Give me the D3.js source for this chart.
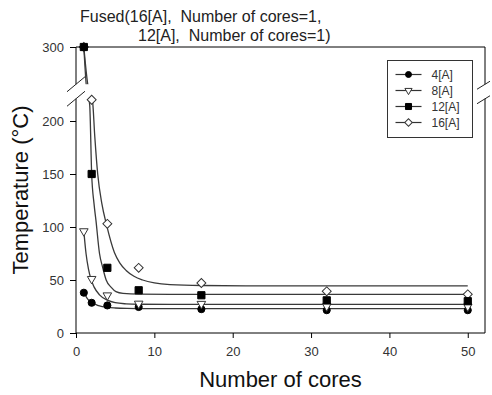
<!DOCTYPE html>
<html>
<head>
<meta charset="utf-8">
<script src="https://cdn.jsdelivr.net/npm/d3@7"></script>
<style>
body { margin: 0; background: #fff; }
text { font-family: "Liberation Sans", Arial, sans-serif; }
</style>
</head>
<body>
<div id="chart"></div>
<script>
var cores = [1, 2, 4, 8, 16, 32, 50];
var temp4 = [38, 28.5, 26, 24.5, 22.5, 21.5, 21.5];
var temp8 = [96, 51, 35.5, 27.7, 27.5, 25.2, 25];
var temp12 = [300, 150, 61.5, 40.3, 35.6, 30.8, 30];
var temp16 = [300, 220, 103, 61.5, 47.2, 39.3, 36.5];

// fitted decay curves
var fit4 = [[1,38.5],[1.5,32],[2,29],[2.5,27],[3,25.5],[4,24.2],[5,23.6],[6.5,23.2],[9,23],[50,23]];
var fit8 = [[1,96],[1.28,75],[1.6,60],[1.9,51],[2.3,43.5],[3,36],[4,31],[5,28.6],[6.4,27.5],[8,27.1],[12,27],[50,27]];
var fit12 = [[1,300],[1.3,250],[1.75,215],[2,150],[2.3,122],[2.55,106],[3,75],[3.4,62],[3.85,50],[4.5,43],[5.1,39],[6,37.3],[8,36.6],[12,36.5],[50,36.5]];
var fit16 = [[1,300],[1.5,250],[2.1,220],[2.4,185],[2.77,150],[3.3,122],[3.9,102],[4.9,76],[5.6,66],[6.4,59],[7.4,53.5],[8.5,50],[10,47.2],[12,45.6],[16,44.8],[25,44.5],[50,44.4]];

var seriesNames = ["4[A]", "8[A]", "12[A]", "16[A]"];
var xTicks = [0, 10, 20, 30, 40, 50];
var yTicks = [0, 50, 100, 150, 200, 300];
var titleLines = ["Fused(16[A],  Number of cores=1,", "12[A],  Number of cores=1)"];

var W = 492, H = 395;
// note: "top" is taken by window.top, so plot edges get a prefix
var plotL = 76, plotR = 485, plotT = 47, plotB = 333;
var breakLo = 221, breakHi = 250;       // axis is cut between these values
var pxPerUnit = 212 / 200;
var yCutLo = plotB - breakLo * pxPerUnit;
var yCutHi = yCutLo - 14.5;

var x = d3.scaleLinear().domain([0, 52.2]).range([plotL, plotR]);
var y = d3.scaleLinear()
    .domain([0, breakLo, breakHi, 300])
    .range([plotB, yCutLo, yCutHi, plotT]);

var svg = d3.select("#chart").append("svg")
    .attr("width", W)
    .attr("height", H);

var series = [
    {name: seriesNames[0], vals: temp4, fit: fit4, shape: "circle", fill: "#000"},
    {name: seriesNames[1], vals: temp8, fit: fit8, shape: "tri", fill: "#fff"},
    {name: seriesNames[2], vals: temp12, fit: fit12, shape: "square", fill: "#000"},
    {name: seriesNames[3], vals: temp16, fit: fit16, shape: "diamond", fill: "#fff"}
];

function symbolPath(shape, big) {
    var k = big ? 1 : 0.7;
    if (shape == "circle") return d3.symbol().type(d3.symbolCircle).size(40 * k)();
    if (shape == "tri") return d3.symbol().type(d3.symbolTriangle).size(32 * k)();
    if (shape == "square") return d3.symbol().type(d3.symbolSquare).size(52 * k)();
    return d3.symbol().type(d3.symbolSquare).size(40 * k)();
}
function symbolRot(shape) {
    if (shape == "tri") return 180;
    if (shape == "diamond") return 45;
    return 0;
}

// fitted curves
var line = d3.line()
    .x(function(d) { return x(d[0]); })
    .y(function(d) { return y(d[1]); })
    .curve(d3.curveMonotoneX);

svg.selectAll("path.fit").data(series).enter().append("path")
    .attr("class", "fit")
    .attr("d", function(s) { return line(s.fit); })
    .attr("fill", "none")
    .attr("stroke", "#3a3a3a")
    .attr("stroke-width", 1.3);

// cut the curves where the axis is broken
svg.append("rect")
    .attr("x", plotL + 1).attr("y", yCutHi)
    .attr("width", 40).attr("height", yCutLo - yCutHi)
    .attr("fill", "#fff");

// markers, 12[A] drawn last so its square sits on top at 300
var order = [series[0], series[1], series[3], series[2]];
order.forEach(function(s) {
    svg.selectAll(null).data(cores).enter().append("path")
        .attr("d", symbolPath(s.shape, true))
        .attr("transform", function(c, i) {
            return "translate(" + x(c) + "," + y(s.vals[i]) + ") rotate(" + symbolRot(s.shape) + ")";
        })
        .attr("fill", s.fill)
        .attr("stroke", s.fill == "#fff" ? "#333" : "#000")
        .attr("stroke-width", 1);
});

// axes
var xAxis = svg.append("g")
    .attr("transform", "translate(0," + plotB + ")")
    .call(d3.axisBottom(x).tickValues(xTicks).tickSize(5).tickPadding(9));
var yAxis = svg.append("g")
    .attr("transform", "translate(" + plotL + ",0)")
    .call(d3.axisLeft(y).tickValues(yTicks).tickSize(6).tickPadding(6));
[xAxis, yAxis].forEach(function(g) {
    g.select(".domain").remove();
    g.selectAll("text").attr("font-size", 13).attr("fill", "#333")
        .attr("font-family", "\"Liberation Sans\", Arial, sans-serif");
    g.selectAll("line").attr("stroke", "#000");
});

// frame with the break gap on both sides
var frame = [
    [plotL, plotB, plotR, plotB],
    [plotL, plotT, plotR, plotT],
    [plotL, plotB, plotL, yCutLo],
    [plotL, yCutHi, plotL, plotT],
    [plotR, plotB, plotR, yCutLo],
    [plotR, yCutHi, plotR, plotT]
];
svg.selectAll("line.frame").data(frame).enter().append("line")
    .attr("class", "frame")
    .attr("x1", function(d) { return d[0]; })
    .attr("y1", function(d) { return d[1]; })
    .attr("x2", function(d) { return d[2]; })
    .attr("y2", function(d) { return d[3]; })
    .attr("stroke", "#000")
    .attr("stroke-width", 1);

// break slashes
[yCutLo, yCutHi].forEach(function(yc) {
    svg.append("line")
        .attr("x1", plotL - 9).attr("y1", yc + 7.5)
        .attr("x2", plotL + 9).attr("y2", yc - 7.5)
        .attr("stroke", "#222");
    svg.append("line")
        .attr("x1", plotR - 8).attr("y1", yc + 5)
        .attr("x2", plotR + 5).attr("y2", yc - 3)
        .attr("stroke", "#222");
});

// legend
var lg = svg.append("g").attr("transform", "translate(387.5,60.5)");
lg.append("rect")
    .attr("width", 85).attr("height", 77)
    .attr("fill", "#fff").attr("stroke", "#333");
var rows = lg.selectAll("g.row").data(series).enter().append("g")
    .attr("transform", function(s, i) { return "translate(0," + (14 + i * 16) + ")"; });
rows.append("line")
    .attr("x1", 8).attr("x2", 34)
    .attr("stroke", "#333").attr("stroke-width", 1.2);
rows.append("path")
    .attr("d", function(s) { return symbolPath(s.shape, false); })
    .attr("transform", function(s) { return "translate(21,0) rotate(" + symbolRot(s.shape) + ")"; })
    .attr("fill", function(s) { return s.fill; })
    .attr("stroke", function(s) { return s.fill == "#fff" ? "#333" : "#000"; });
rows.append("text")
    .attr("x", 44).attr("dy", "0.35em")
    .attr("font-size", 12).attr("fill", "#333")
    .text(function(s) { return s.name; });

// titles
svg.append("text").attr("x", 80).attr("y", 22)
    .attr("font-size", 16).attr("fill", "#222")
    .style("white-space", "pre")
    .text(titleLines[0]);
svg.append("text").attr("x", 138).attr("y", 41)
    .attr("font-size", 16).attr("fill", "#222")
    .style("white-space", "pre")
    .text(titleLines[1]);

svg.append("text")
    .attr("x", (plotL + plotR) / 2).attr("y", 387)
    .attr("text-anchor", "middle")
    .attr("font-size", 22).attr("fill", "#111")
    .text("Number of cores");

svg.append("text")
    .attr("transform", "translate(28," + ((plotT + plotB) / 2) + ") rotate(-90)")
    .attr("text-anchor", "middle")
    .attr("font-size", 22).attr("fill", "#111")
    .text("Temperature (°C)");
</script>
</body>
</html>
